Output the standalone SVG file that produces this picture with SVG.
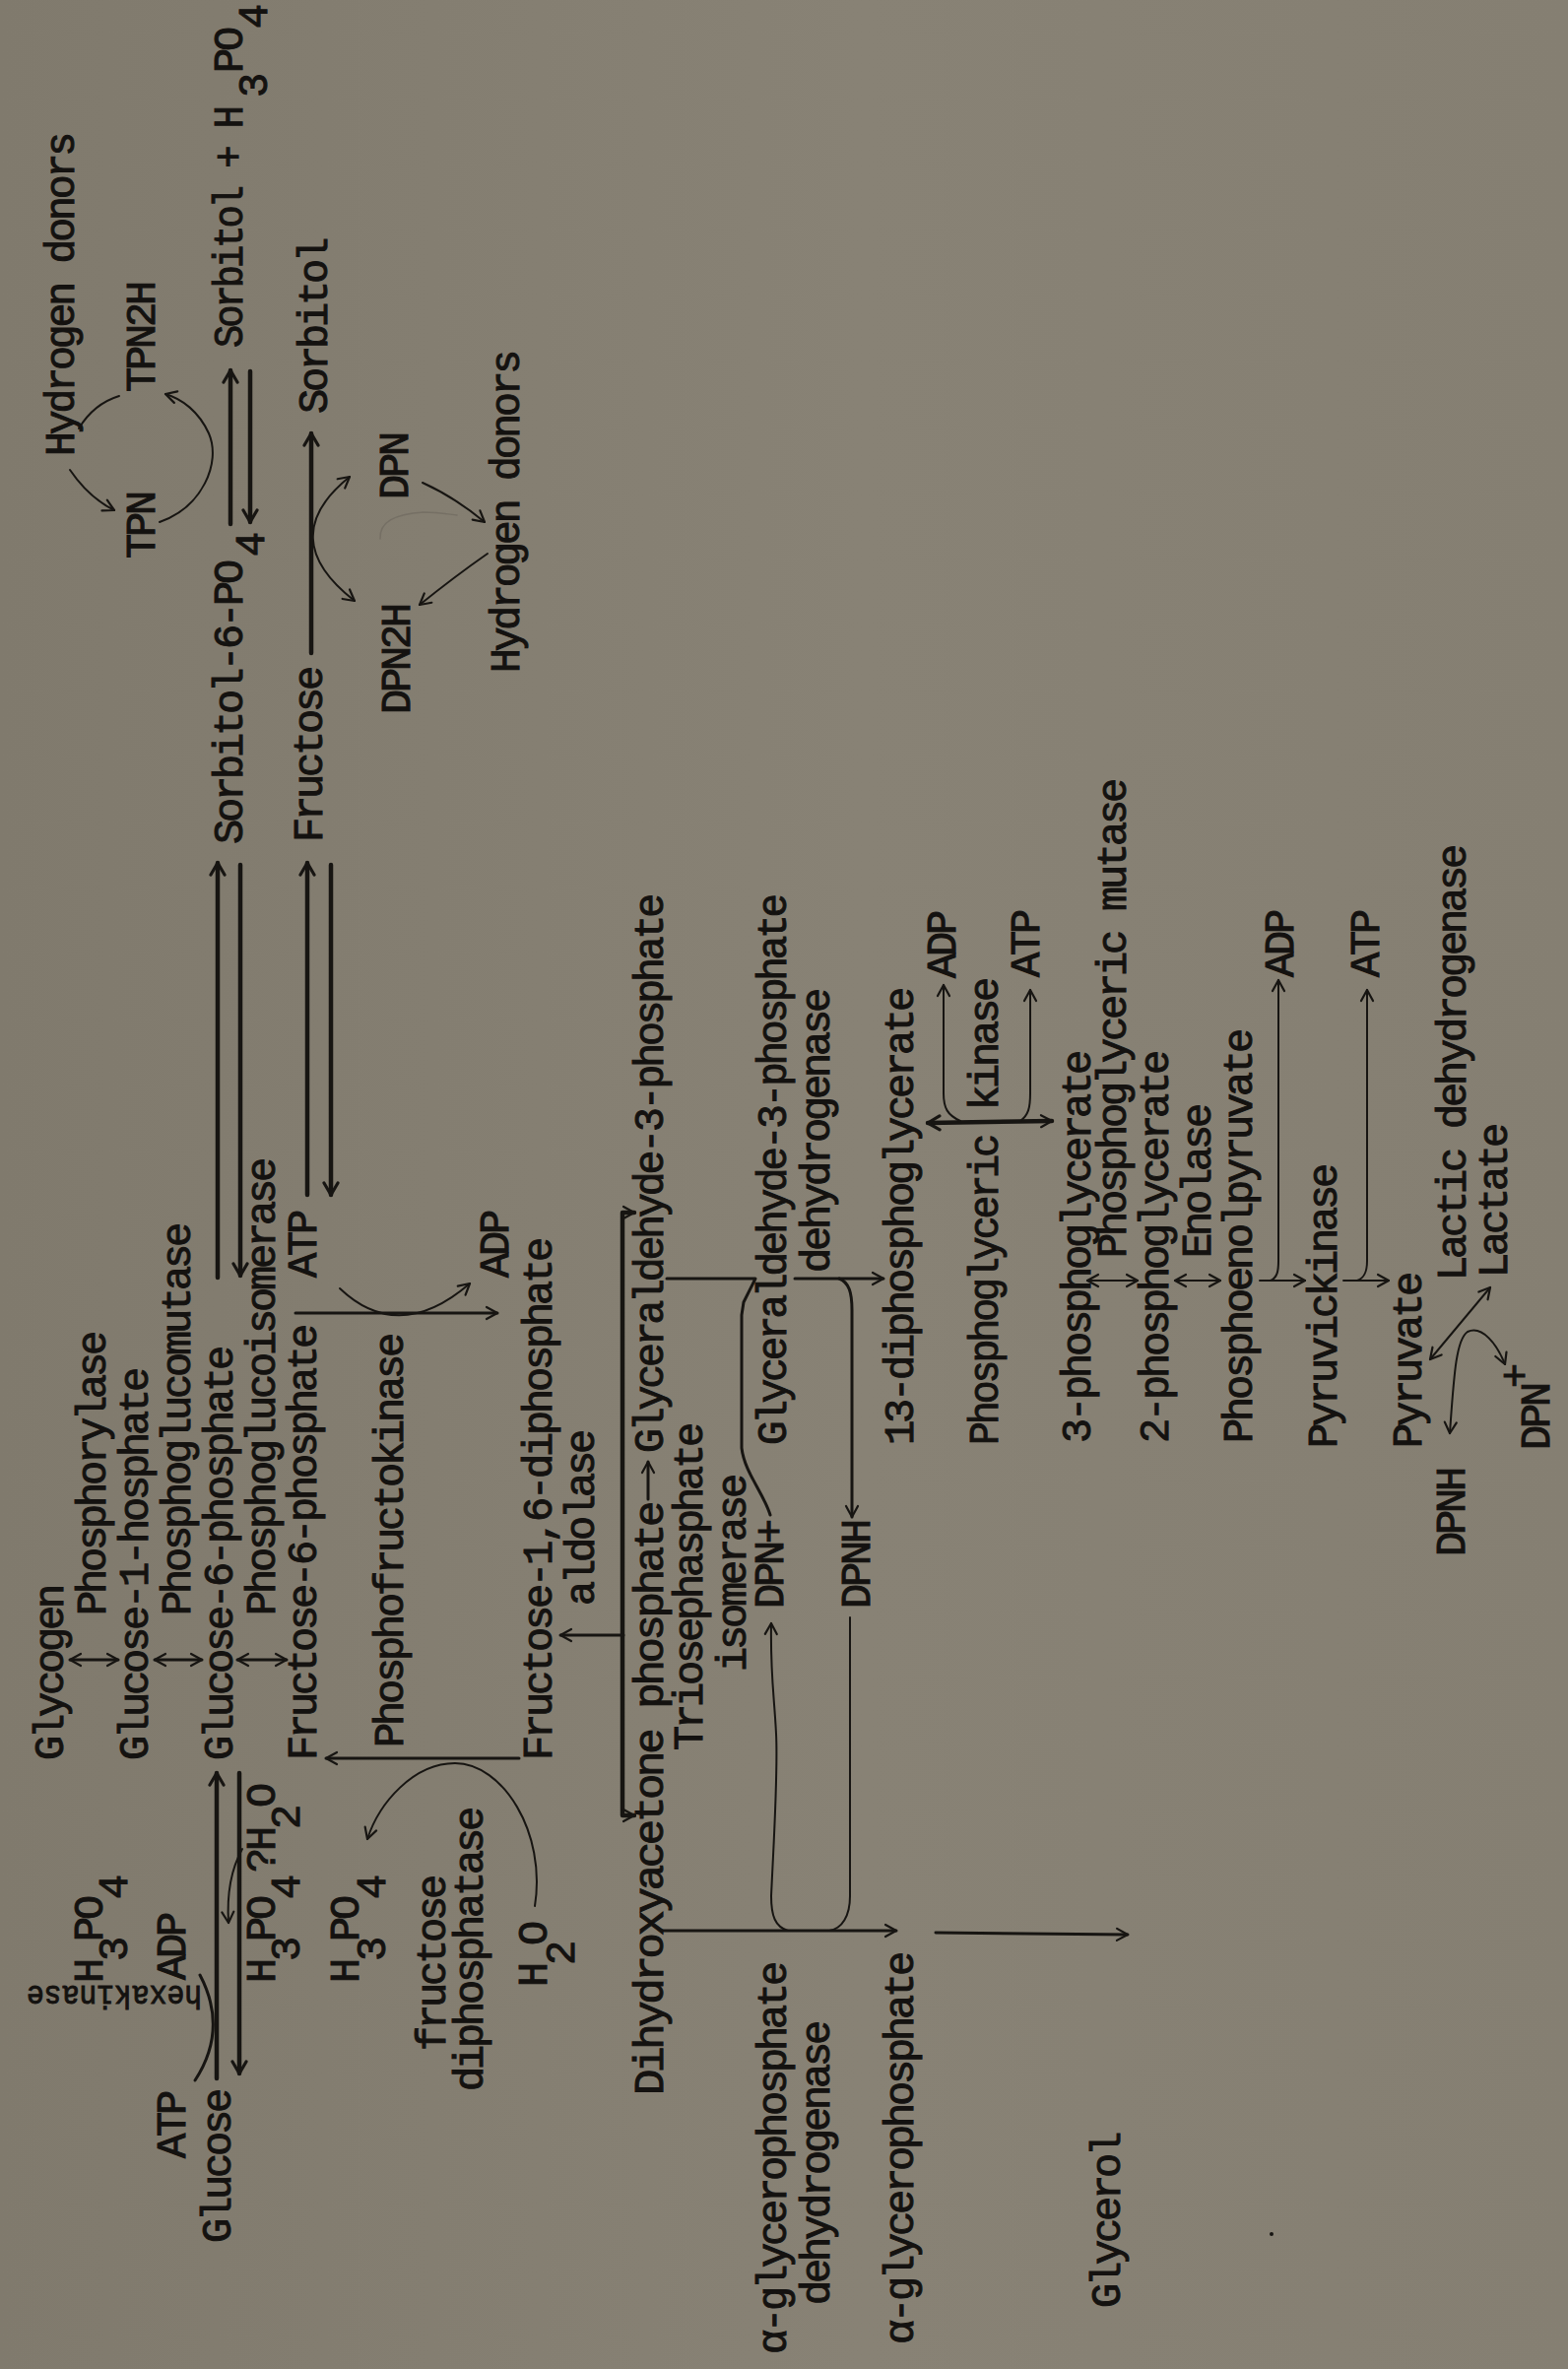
<svg xmlns="http://www.w3.org/2000/svg" width="1592" height="2405" viewBox="0 0 1592 2405">
<style>
.t{font-family:"Liberation Mono","DejaVu Sans Mono",monospace;font-size:42px;fill:#141210;stroke:#141210;stroke-width:1px;letter-spacing:-3.2px}
.c path{fill:none;stroke:#171512;stroke-linecap:round;stroke-linejoin:round}
.k{stroke-width:4.5}
.m{stroke-width:3}
.n{stroke-width:2}
</style>
<defs>
<linearGradient id="bg" x1="0" y1="0" x2="1" y2="0">
<stop offset="0" stop-color="#807a6d"/>
<stop offset="0.55" stop-color="#888275"/>
<stop offset="1" stop-color="#857f72"/>
</linearGradient>
<marker id="ah" viewBox="-13 -8 15 16" refX="0" refY="0" markerWidth="15" markerHeight="16" markerUnits="userSpaceOnUse" orient="auto-start-reverse"><path d="M-11,-6 L0,0 L-11,6" fill="none" stroke="#171512" stroke-width="2.2" stroke-linecap="round" stroke-linejoin="round"/></marker>
<marker id="ahk" viewBox="-14 -9 16 18" refX="0" refY="0" markerWidth="16" markerHeight="18" markerUnits="userSpaceOnUse" orient="auto-start-reverse"><path d="M-12,-7 L0,0 L-12,7" fill="none" stroke="#171512" stroke-width="3.2" stroke-linecap="round" stroke-linejoin="round"/></marker>
</defs>
<rect width="1592" height="2405" fill="url(#bg)"/>

<g id="connectors" class="c">
<path class="k" d="M234,532 L234,376" marker-end="url(#ahk)"/>
<path class="k" d="M254,377 L254,530" marker-end="url(#ahk)"/>
<path class="k" d="M316,663 L316,440" marker-end="url(#ahk)"/>
<path class="n" d="M355,484 Q278,546 360,610" marker-start="url(#ah)" marker-end="url(#ah)"/>
<path class="n" d="M429,490 Q462,505 492,530" marker-end="url(#ah)"/>
<path class="n" d="M495,562 Q462,585 426,614" marker-end="url(#ah)"/>
<path d="M386,547 C385,530 400,522 430,520 C445,520 455,522 464,523" style="stroke:#6f6a5f;stroke-width:1.5;opacity:0.7"/>
<path class="n" d="M71,477 Q90,505 116,518" marker-end="url(#ah)"/>
<path class="n" d="M121,402 Q95,410 80,435"/>
<path class="n" d="M162,530 C205,515 225,470 212,440 C202,418 185,405 168,400" marker-end="url(#ah)"/>
<path class="k" d="M221,1297 L221,876" marker-end="url(#ahk)"/>
<path class="k" d="M244,878 L244,1295" marker-end="url(#ahk)"/>
<path class="k" d="M312,1213 L312,876" marker-end="url(#ahk)"/>
<path class="k" d="M336,878 L336,1213" marker-end="url(#ahk)"/>
<path class="m" d="M300,1333 L505,1333" marker-end="url(#ah)"/>
<path class="n" d="M345,1308 Q405,1365 477,1303" marker-end="url(#ah)"/>
<path class="m" d="M527,1785 L331,1785" marker-end="url(#ah)"/>
<path class="n" d="M543,1935 C555,1860 510,1790 462,1790 C420,1790 385,1830 373,1867" marker-end="url(#ah)"/>
<path class="m" d="M71,1685 L120,1685" marker-start="url(#ah)" marker-end="url(#ah)"/>
<path class="m" d="M157,1685 L205,1685" marker-start="url(#ah)" marker-end="url(#ah)"/>
<path class="m" d="M241,1685 L291,1685" marker-start="url(#ah)" marker-end="url(#ah)"/>
<path class="k" d="M220,2110 L220,1800" marker-end="url(#ahk)"/>
<path class="k" d="M243,1800 L243,2105" marker-end="url(#ahk)"/>
<path class="m" d="M198,2112 Q232,2060 203,2005"/>
<path class="n" d="M246,1877 C236,1895 230,1920 232,1952" marker-end="url(#ah)"/>
<path class="k" d="M644,1231 L632,1231 L632,1843 L644,1843" marker-start="url(#ah)" marker-end="url(#ah)"/>
<path class="m" d="M633,1660 L569,1660" marker-end="url(#ah)"/>
<path class="m" d="M658,1522 L658,1484" marker-end="url(#ah)"/>
<path class="m" d="M677,1298 L767,1298 L755,1322 L753,1335 L753,1470 C756,1495 775,1515 782,1538"/>
<path class="m" d="M807,1298 L897,1298" marker-end="url(#ah)"/>
<path class="m" d="M852,1298 C862,1302 865,1312 865,1330 L865,1540" marker-end="url(#ah)"/>
<path class="n" d="M863,1642 L863,1925 C863,1945 855,1958 842,1960"/>
<path class="n" d="M800,1960 C787,1956 783,1945 783,1925 C786,1860 790,1800 788,1760 C786,1720 782,1700 783,1648" marker-end="url(#ah)"/>
<path class="m" d="M672,1960 L910,1960" marker-end="url(#ah)"/>
<path class="m" d="M950,1962 L1145,1964" marker-end="url(#ah)"/>
<path class="k" d="M942,1140 L1068,1138" marker-start="url(#ahk)" marker-end="url(#ah)"/>
<path class="n" d="M975,1138 C962,1132 958,1125 958,1110 L958,1000" marker-end="url(#ah)"/>
<path class="n" d="M1036,1138 C1044,1132 1046,1125 1046,1110 L1046,1005" marker-end="url(#ah)"/>
<path class="n" d="M1104,1300 L1155,1300" marker-start="url(#ah)" marker-end="url(#ah)"/>
<path class="n" d="M1193,1300 L1239,1300" marker-start="url(#ah)" marker-end="url(#ah)"/>
<path class="n" d="M1279,1300 L1325,1300" marker-end="url(#ah)"/>
<path class="n" d="M1290,1300 C1297,1297 1298,1290 1298,1280 L1298,995" marker-end="url(#ah)"/>
<path class="n" d="M1364,1300 L1410,1300" marker-end="url(#ah)"/>
<path class="n" d="M1378,1300 C1386,1297 1388,1290 1388,1280 L1388,1005" marker-end="url(#ah)"/>
<path class="n" d="M1452,1380 L1513,1307" marker-start="url(#ah)" marker-end="url(#ah)"/>
<path class="n" d="M1472,1455 C1476,1400 1478,1360 1490,1352 C1505,1345 1520,1365 1528,1385" marker-start="url(#ah)" marker-end="url(#ah)"/>
</g>
<circle cx="1291" cy="2268" r="2" fill="#171512"/>

<g id="labels" transform="translate(0,2405) rotate(-90)">
<g id="hydrogen-donors-1"><text class="t" x="1942" y="75" textLength="326" lengthAdjust="spacingAndGlyphs">Hydrogen donors</text></g>
<g id="tpn2h"><text class="t" x="2007" y="157">TPN2H</text></g>
<g id="tpn"><text class="t" x="1838" y="157">TPN</text></g>
<g id="sorbitol-h3po4"><text class="t" x="2052" y="246" textLength="243" lengthAdjust="spacingAndGlyphs">Sorbitol + H</text><text class="t" x="2306" y="271">3</text><text class="t" x="2331" y="246">PO</text><text class="t" x="2376" y="271">4</text></g>
<g id="sorbitol"><text class="t" x="1985" y="332">Sorbitol</text></g>
<g id="hydrogen-donors-2"><text class="t" x="1722" y="527" textLength="325" lengthAdjust="spacingAndGlyphs">Hydrogen donors</text></g>
<g id="dpn-top"><text class="t" x="1898" y="414">DPN</text></g>
<g id="dpn2h"><text class="t" x="1680" y="416">DPN2H</text></g>
<g id="sorbitol-6-po4"><text class="t" x="1548" y="246">Sorbitol-6-PO</text><text class="t" x="1840" y="268">4</text></g>
<g id="fructose-top"><text class="t" x="1550" y="327">Fructose</text></g>

<g id="glycogen"><text class="t" x="618" y="64">Glycogen</text></g>
<g id="phosphorylase"><text class="t" x="765" y="107">Phosphorylase</text></g>
<g id="glucose-1-phosphate"><text class="t" x="618" y="150">Glucose-1-hosphate</text></g>
<g id="phosphoglucomutase"><text class="t" x="765" y="193">Phosphoglucomutase</text></g>
<g id="glucose-6-phosphate"><text class="t" x="618" y="236">Glucose-6-phosphate</text></g>
<g id="phosphoglucoisomerase"><text class="t" x="765" y="279">Phosphoglucoisomerase</text></g>
<g id="fructose-6-phosphate"><text class="t" x="618" y="321">Fructose-6-phosphate</text></g>
<g id="atp-pfk"><text class="t" x="1108" y="321">ATP</text></g>
<g id="phosphofructokinase"><text class="t" x="631" y="409">Phosphofructokinase</text></g>
<g id="adp-pfk"><text class="t" x="1108" y="516">ADP</text></g>
<g id="fructose-1-6-diphosphate"><text class="t" x="618" y="560">Fructose-1,6-diphosphate</text></g>
<g id="aldolase"><text class="t" x="775" y="603">aldolase</text></g>

<g id="glucose"><text class="t" x="128" y="234">Glucose</text></g>
<g id="atp-hk"><text class="t" x="214" y="188">ATP</text></g>
<g id="adp-hk"><text class="t" x="395" y="188">ADP</text></g>
<g id="h3po4-hk"><text class="t" x="392" y="104">H</text><text class="t" x="414" y="129">3</text><text class="t" x="434" y="104">PO</text><text class="t" x="477" y="129">4</text></g>
<g id="h3po4-h2o"><text class="t" x="392" y="279">H</text><text class="t" x="414" y="304">3</text><text class="t" x="434" y="279">PO</text><text class="t" x="477" y="304">4</text><text class="t" x="504" y="279">?H</text><text class="t" x="548" y="304">2</text><text class="t" x="570" y="279">O</text></g>
<g id="h3po4-fdp"><text class="t" x="392" y="364">H</text><text class="t" x="414" y="391">3</text><text class="t" x="434" y="364">PO</text><text class="t" x="477" y="391">4</text></g>
<g id="fructose-diphosphatase"><text class="t" x="323" y="452">fructose</text><text class="t" x="282" y="490">diphosphatase</text></g>
<g id="h2o"><text class="t" x="388" y="555">H</text><text class="t" x="410" y="583">2</text><text class="t" x="430" y="555">O</text></g>

<g id="dihydroxyacetone-phosphate"><text class="t" x="278" y="673" textLength="600" lengthAdjust="spacingAndGlyphs">Dihydroxyacetone phosphate</text></g>
<g id="glyceraldehyde-3-phosphate-1"><text class="t" x="930" y="673" textLength="565" lengthAdjust="spacingAndGlyphs">Glyceraldehyde-3-phosphate</text></g>
<g id="triosephosphate-isomerase"><text class="t" x="628" y="713">Triosephasphate</text><text class="t" x="708" y="757">isomerase</text></g>
<g id="dpn-plus-1"><text class="t" x="772" y="795">DPN+</text></g>
<g id="glyceraldehyde-3-phosphate-2"><text class="t" x="938" y="798" textLength="557" lengthAdjust="spacingAndGlyphs">Glyceraldehyde-3-phosphate</text></g>
<g id="g3p-dehydrogenase"><text class="t" x="1113" y="842">dehydrogenase</text></g>
<g id="dpnh-1"><text class="t" x="772" y="883">DPNH</text></g>
<g id="agp-dehydrogenase"><text class="t" x="15" y="798">α-glycerophosphate</text><text class="t" x="65" y="842">dehydrogenase</text></g>
<g id="agp"><text class="t" x="25" y="927">α-glycerophosphate</text></g>
<g id="glycerol"><text class="t" x="62" y="1137">Glycerol</text></g>
<g id="diphosphoglycerate"><text class="t" x="938" y="927">13-diphosphoglycerate</text></g>
<g id="phosphoglyceric-kinase"><text class="t" x="938" y="1013" textLength="313" lengthAdjust="spacingAndGlyphs">Phosphoglyceric</text><text class="t" x="1278" y="1013">kinase</text></g>
<g id="adp-pgk"><text class="t" x="1412" y="970">ADP</text></g>
<g id="atp-pgk"><text class="t" x="1413" y="1055">ATP</text></g>
<g id="phosphoglycerate-3"><text class="t" x="940" y="1107">3-phosphoglycerate</text></g>
<g id="phosphoglyceric-mutase"><text class="t" x="1128" y="1143">Phosphoglyceric mutase</text></g>
<g id="phosphoglycerate-2"><text class="t" x="940" y="1186">2-phosphoglycerate</text></g>
<g id="enolase"><text class="t" x="1128" y="1229">Enolase</text></g>
<g id="phosphoenolpyruvate"><text class="t" x="940" y="1271">Phosphoenolpyruvate</text></g>
<g id="adp-pk"><text class="t" x="1413" y="1313">ADP</text></g>
<g id="pyruvickinase"><text class="t" x="935" y="1357">Pyruvickinase</text></g>
<g id="atp-pk"><text class="t" x="1413" y="1400">ATP</text></g>
<g id="pyruvate"><text class="t" x="935" y="1443">Pyruvate</text></g>
<g id="lactic-dehydrogenase"><text class="t" x="1105" y="1488">Lactic dehydrogenase</text></g>
<g id="lactate"><text class="t" x="1108" y="1530">Lactate</text></g>
<g id="dpnh-2"><text class="t" x="825" y="1487">DPNH</text></g>
<g id="dpn-plus-2"><text class="t" x="933" y="1573">DPN</text><text class="t" x="996" y="1552">+</text></g>
</g>
<g id="hexakinase"><text class="t" style="letter-spacing:0;font-size:34px" transform="translate(205,2016) rotate(180)" x="0" y="0" textLength="178" lengthAdjust="spacingAndGlyphs">hexakinase</text></g>
</svg>
